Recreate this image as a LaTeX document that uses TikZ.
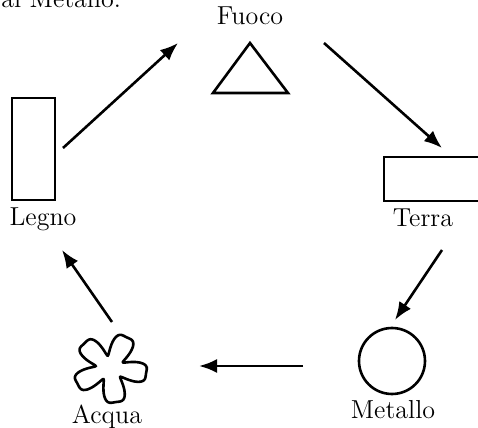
\documentclass[tikz,border=0pt]{standalone}
\usepackage{tikz}
\usetikzlibrary{arrows.meta,calc}

\begin{document}
\begin{tikzpicture}[
x=0.5pt,y=-0.5pt,
outline/.style={
  draw,
  line width=1.3pt,
  inner sep=0pt
  },
name text/.style={
  font=\fontsize{13}{15}\selectfont,
  anchor=base
  },
arr/.style={
  ->,
  line width=1.3pt
  },
>={Latex[length=9pt,width=7pt]}
]
\useasboundingbox (0,0) rectangle (478,428);

% stray line of the page text, cut at the top
\node[name text,anchor=base east] (prev) at (128,7) {al Metallo.};

% the five elements
\draw[outline] (250,43) -- (288,93) -- (213,93) -- cycle;
\coordinate (fuoco) at (250,68);
\node[outline,minimum width=21.5pt,minimum height=51pt] (legno) at (33.5,149) {};
\node[outline,minimum width=51pt,minimum height=22pt] (terra) at (435,179) {};
\node[outline,circle,minimum size=33pt] (metallo) at (392,361) {};
\draw[outline] plot[domain=0:360,samples=180,smooth cycle]
  ({110+(29+11*cos(5*(\x-225))-3.5*cos(10*(\x-225)))*cos(\x)},
   {368+(27+11*cos(5*(\x-225))-3.5*cos(10*(\x-225)))*sin(\x)});
\coordinate (acqua) at (110,368);

\node[name text] (l-fuoco) at (250,25) {Fuoco};
\node[name text] (l-legno) at (43,226) {Legno};
\node[name text] (l-terra) at (423,227) {Terra};
\node[name text] (l-metallo) at (393,418) {Metallo};
\node[name text] (l-acqua) at (107,423) {Acqua};

% ends of the arrows
\coordinate (legno-out) at (63,148);
\coordinate (fuoco-in) at (178,43);
\coordinate (fuoco-out) at (324,43);
\coordinate (terra-in) at (442,148);
\coordinate (terra-out) at (442,250);
\coordinate (metallo-in) at (395,320);
\coordinate (metallo-out) at (303,366);
\coordinate (acqua-in) at (199,366);
\coordinate (acqua-out) at (112,322);
\coordinate (legno-in) at (62,250);

\draw[arr] (legno-out) -- (fuoco-in);
\draw[arr] (fuoco-out) -- (terra-in);
\draw[arr] (terra-out) -- (metallo-in);
\draw[arr] (metallo-out) -- (acqua-in);
\draw[arr] (acqua-out) -- (legno-in);

\end{tikzpicture}
\end{document}
